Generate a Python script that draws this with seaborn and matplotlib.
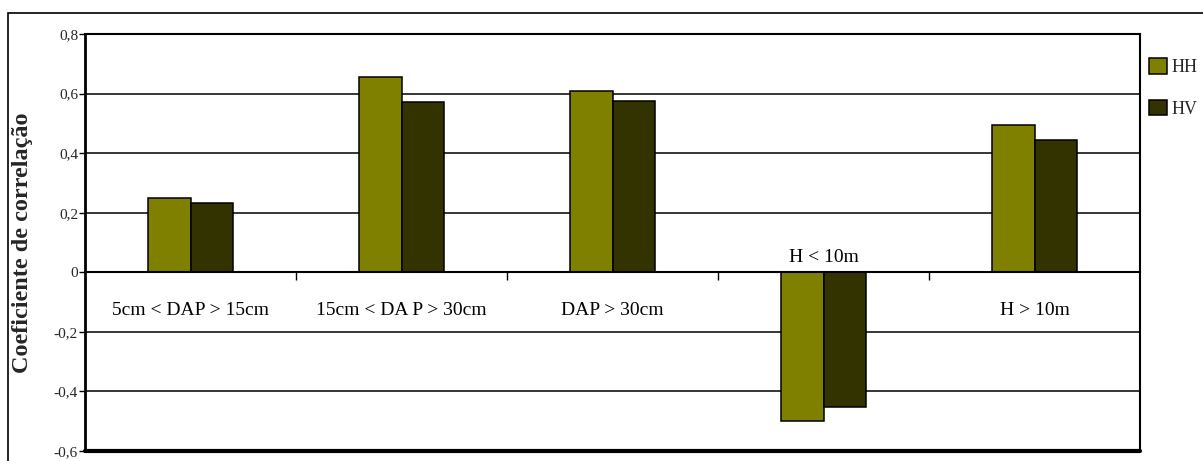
import matplotlib
matplotlib.use("Agg")
import matplotlib.pyplot as plt
from matplotlib.patches import Rectangle, Patch
from matplotlib.ticker import FuncFormatter
import pandas as pd
import seaborn as sns

# Correlation coefficients per tree class and polarization
categories = ["5cm < DAP > 15cm", "15cm < DA P > 30cm", "DAP > 30cm", "H < 10m", "H > 10m"]
hh_values = [0.248, 0.657, 0.610, -0.498, 0.496]
hv_values = [0.234, 0.570, 0.576, -0.451, 0.444]
series_names = ["HH", "HV"]
series_colors = ["#808000", "#333300"]
y_ticks = [-0.6, -0.4, -0.2, 0, 0.2, 0.4, 0.6, 0.8]

df = pd.DataFrame({
    "classe": categories * 2,
    "coef": hh_values + hv_values,
    "pol": [series_names[0]] * len(categories) + [series_names[1]] * len(categories),
})

sns.set_style("white")
plt.rcParams["font.family"] = ["Liberation Serif", "DejaVu Serif"]

fig = plt.figure(figsize=(12.03, 4.61), dpi=100)
ax = fig.add_axes([0.0707, 0.0217, 0.877, 0.9046])

sns.barplot(data=df, x="classe", y="coef", hue="pol", order=categories,
            hue_order=series_names, palette=series_colors, width=0.4,
            edgecolor="black", linewidth=1.1, saturation=1, legend=False, ax=ax)

ax.set_ylim(-0.6, 0.8)
ax.set_xlim(-0.5, len(categories) - 0.5)
ax.set_yticks(y_ticks)
ax.yaxis.set_major_formatter(FuncFormatter(
    lambda v, _: "0" if abs(v) < 1e-9 else f"{v:.1f}".replace(".", ",")))
ax.tick_params(axis="y", direction="out", length=4, width=1, color="black",
               labelsize=11, pad=1, left=True)

# category boundaries as ticks on the zero axis
ax.set_xticks([i + 0.5 for i in range(len(categories) - 1)])
ax.set_xticklabels([])
ax.tick_params(axis="x", direction="out", length=6, width=1, color="black", bottom=True)
ax.set_xlabel("")

ax.grid(axis="y", color="black", linewidth=1.1)
ax.set_axisbelow(True)
ax.spines["bottom"].set_position(("data", 0))
for name in ["left", "right", "top", "bottom"]:
    ax.spines[name].set_visible(True)
    ax.spines[name].set_color("black")
ax.spines["left"].set_linewidth(2.0)
ax.spines["right"].set_linewidth(1.5)
ax.spines["top"].set_linewidth(1.5)
ax.spines["bottom"].set_linewidth(1.5)
ax.axhline(-0.6, color="black", linewidth=3, clip_on=False, zorder=3)

# category names beside the zero line, away from the bars
for i, name in enumerate(categories):
    sign_pos = hh_values[i] >= 0
    ax.text(i, -0.13 if sign_pos else 0.05, name, ha="center", va="center",
            fontsize=14, color="black")

ax.set_ylabel("Coeficiente de correlação", fontsize=17.5, fontweight="bold")
ax.yaxis.set_label_coords(-0.049, 0.5)

handles = [Patch(facecolor=c, edgecolor="black", linewidth=1.1) for c in series_colors]
fig.legend(handles, series_names, loc="upper left", bbox_to_anchor=(0.9555, 0.874),
           frameon=False, fontsize=13, handlelength=0.95, handleheight=0.95,
           handletextpad=0.25, labelspacing=1.3, borderaxespad=0, borderpad=0)

# outer frame around the chart
fig.patches.append(Rectangle((8 / 1203, -0.02), 1.05, (461 - 13) / 461 + 0.02,
                             transform=fig.transFigure, fill=False,
                             edgecolor="black", linewidth=1.2))

fig.savefig("out.png", dpi=100)
